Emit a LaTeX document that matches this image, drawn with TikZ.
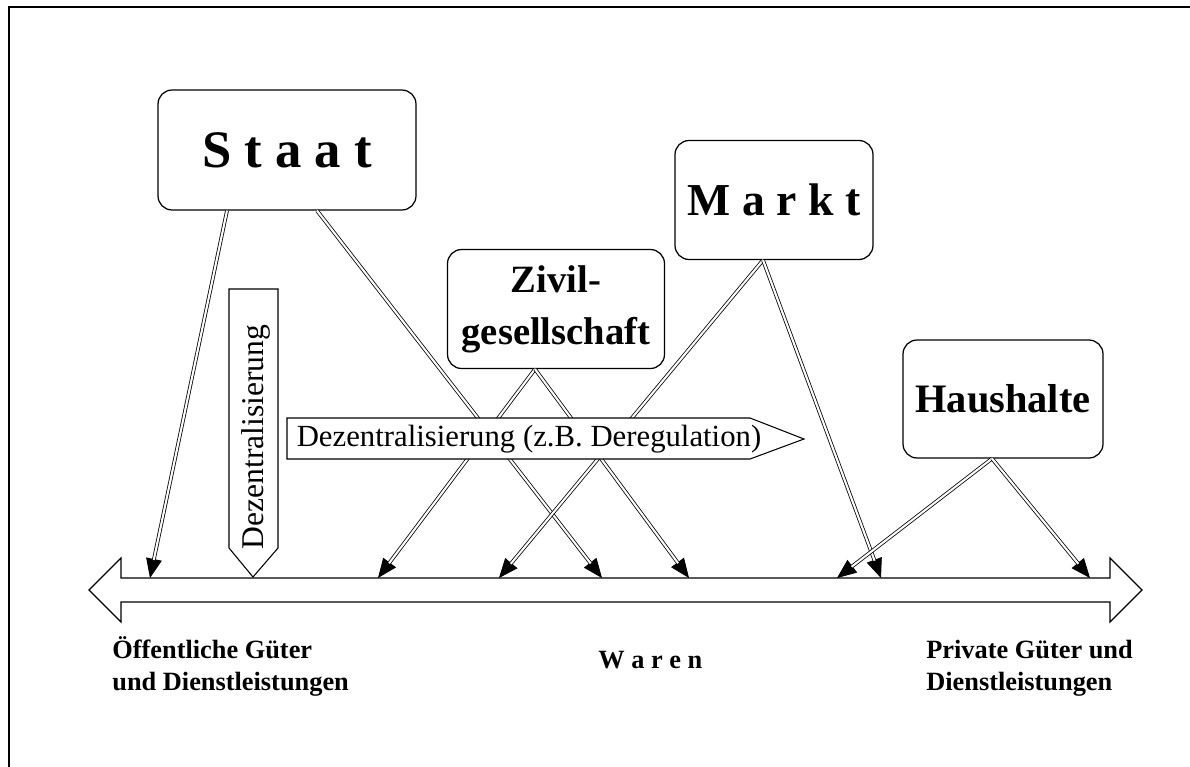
\documentclass[tikz,border=0pt]{standalone}
\usepackage{fontspec}
\setmainfont{Liberation Serif}
\usetikzlibrary{arrows.meta}

\tikzset{
    actor/.style={draw, line width=0.7pt, rounded corners=8pt, fill=white,
        inner sep=0pt, align=center},
    link/.style={double, double distance=1.2pt, line width=0.45pt, shorten >=10.5pt},
    linktip/.style={line width=0.45pt, -{Triangle[length=11pt,width=9pt]}},
    flag/.style={draw, line width=0.6pt, fill=white},
    goods/.style={anchor=base west, align=left, inner sep=0pt,
        font=\bfseries\fontsize{15}{18.2}\selectfont},
}

\begin{document}
\begin{tikzpicture}[x=0.02cm, y=-0.02cm]
    \useasboundingbox (0,0) rectangle (1190,767);
    % Frame
    \draw[line width=0.7pt] (9,767) -- (9,7) -- (1190,7);

    % Actors
    \node[actor, minimum width=5.16cm, minimum height=2.4cm,
        font=\bfseries\fontsize{30}{36}\selectfont] (staat) at (287,150) {S t a a t};
    \node[actor, minimum width=3.96cm, minimum height=2.38cm,
        font=\bfseries\fontsize{26}{31}\selectfont] (markt) at (774,200) {M a r k t};
    \node[actor, minimum width=4.34cm, minimum height=2.38cm,
        font=\bfseries\fontsize{22}{29.5}\selectfont] (zivil) at (556,309) {Zivil-\\gesellschaft};
    \node[actor, minimum width=4.0cm, minimum height=2.36cm,
        font=\bfseries\fontsize{23}{28}\selectfont] (haushalte) at (1003,399) {Haushalte};

    % Start points of the links
    \coordinate (staatL) at ([xshift=-1.2cm]staat.south);
    \coordinate (staatR) at ([xshift=0.6cm]staat.south);
    \coordinate (zivilS) at ([xshift=-0.42cm]zivil.south);
    \coordinate (marktS) at ([xshift=-0.22cm]markt.south);
    \coordinate (haushalteS) at ([xshift=-0.22cm]haushalte.south);

    % Targets on the axis
    \foreach \n/\x in {1/150, 2/378, 3/499, 4/602, 5/689, 6/837, 7/881, 8/1090}
        \coordinate (t\n) at (\x,578);

    % Links
    \foreach \s/\t in {staatL/t1, staatR/t4, zivilS/t2, zivilS/t5,
                       marktS/t3, marktS/t7, haushalteS/t6, haushalteS/t8}{
        \draw[linktip] (\s) -- (\t);
        \draw[link] (\s) -- (\t);
    }

    % Axis of goods
    \draw[line width=0.7pt, fill=white] (89,590) -- (121,558) -- (121,578) -- (1110,578)
        -- (1110,558) -- (1142,590) -- (1110,622) -- (1110,602) -- (121,602)
        -- (121,622) -- cycle;

    % Decentralisation arrows
    \draw[flag] (229,289) -- (278,289) -- (278,548) -- (253,577) -- (229,548) -- cycle;
    \node[rotate=90, font=\fontsize{18}{21}\selectfont] (dezv) at (256,437) {Dezentralisierung};
    \draw[flag] (287,418) -- (750,418) -- (804,439) -- (750,459) -- (287,459) -- cycle;
    \node[font=\fontsize{17.5}{20}\selectfont] (dezh) at (529,439)
        {Dezentralisierung (z.B. Deregulation)};

    % Labels under the axis
    \node[goods] (public) at (112,690) {Öffentliche Güter\\und Dienstleistungen};
    \node[goods] (waren) at (598,668) {W a r e n};
    \node[goods] (private) at (926,690) {Private Güter und\\Dienstleistungen};
\end{tikzpicture}
\end{document}
